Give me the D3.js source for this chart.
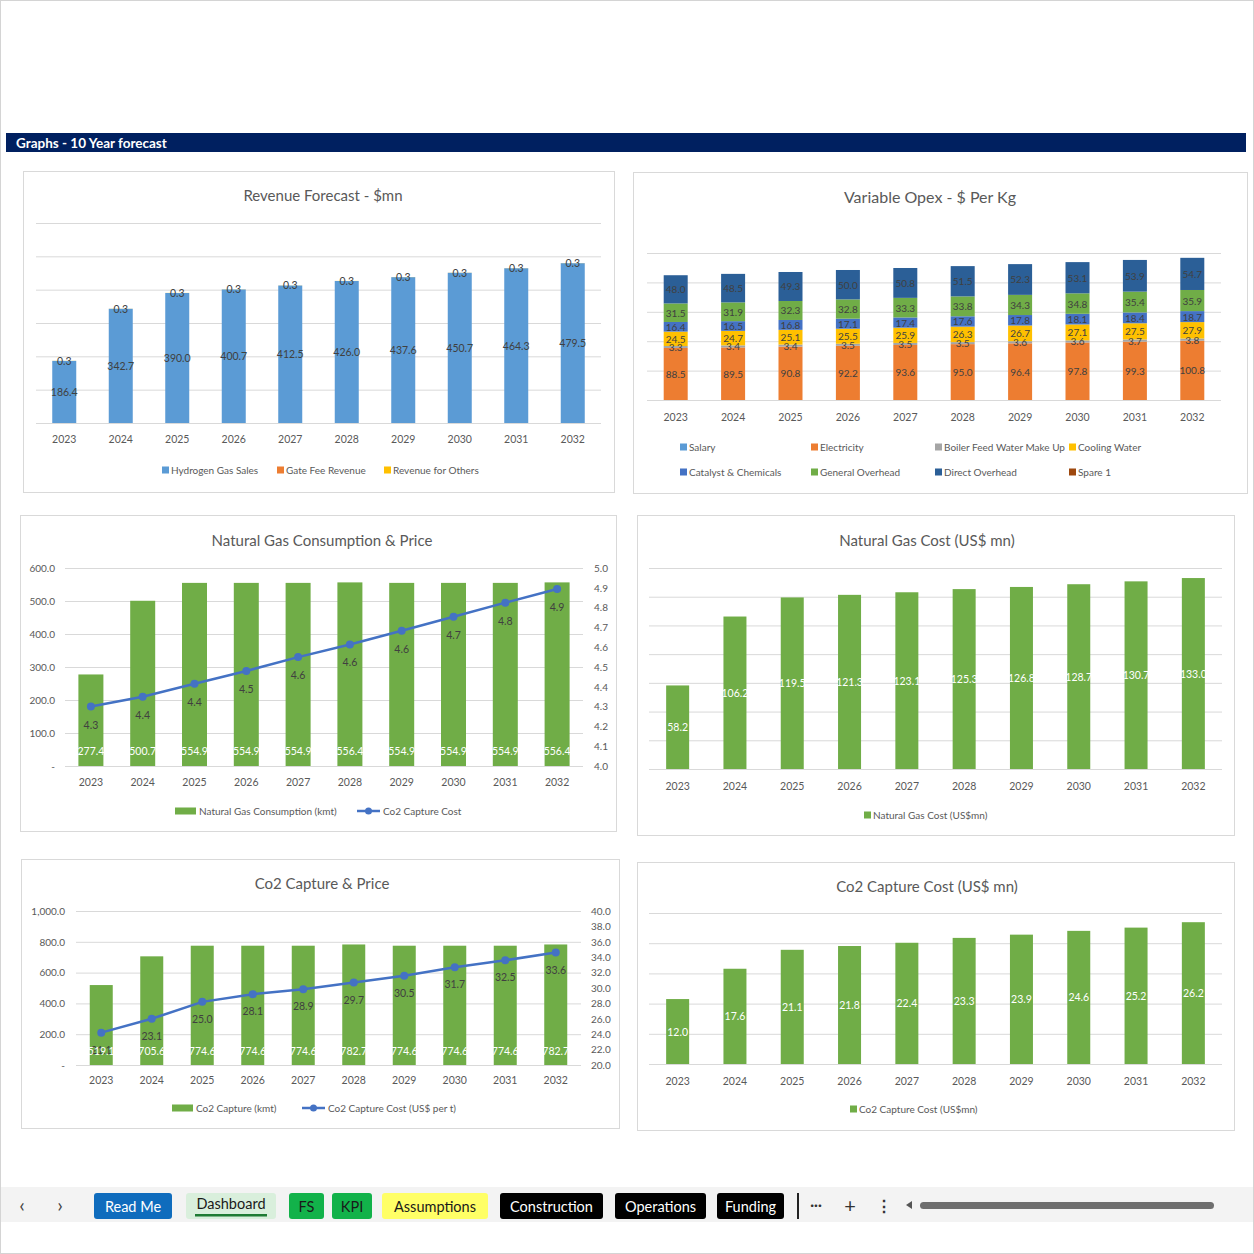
<!DOCTYPE html>
<html>
<head>
<meta charset="utf-8">
<script src="https://cdn.jsdelivr.net/npm/d3@7"></script>
<style>
    body { margin: 0; background: #ffffff; }
    svg { display: block; font-family: Lato, "Open Sans", sans-serif; }
</style>
</head>
<body>
<svg id="dashboard"></svg>
<script>
// ---- data ----
const years = ["2023", "2024", "2025", "2026", "2027", "2028", "2029", "2030", "2031", "2032"];

// Revenue Forecast - $mn
const hydrogenSales = [186.4, 342.7, 390.0, 400.7, 412.5, 426.0, 437.6, 450.7, 464.3, 479.5];
const gateFeeRevenue = [0, 0, 0, 0, 0, 0, 0, 0, 0, 0];
const revenueOthers = [0.3, 0.3, 0.3, 0.3, 0.3, 0.3, 0.3, 0.3, 0.3, 0.3];

// Variable Opex - $ Per Kg
const salary = [0, 0, 0, 0, 0, 0, 0, 0, 0, 0];
const electricity = [88.5, 89.5, 90.8, 92.2, 93.6, 95.0, 96.4, 97.8, 99.3, 100.8];
const boilerFeed = [3.3, 3.4, 3.4, 3.5, 3.5, 3.5, 3.6, 3.6, 3.7, 3.8];
const coolingWater = [24.5, 24.7, 25.1, 25.5, 25.9, 26.3, 26.7, 27.1, 27.5, 27.9];
const catalyst = [16.4, 16.5, 16.8, 17.1, 17.4, 17.6, 17.8, 18.1, 18.4, 18.7];
const generalOverhead = [31.5, 31.9, 32.3, 32.8, 33.3, 33.8, 34.3, 34.8, 35.4, 35.9];
const directOverhead = [48.0, 48.5, 49.3, 50.0, 50.8, 51.5, 52.3, 53.1, 53.9, 54.7];
const spare1 = [0, 0, 0, 0, 0, 0, 0, 0, 0, 0];

// Natural Gas Consumption & Price
const gasConsumption = [277.4, 500.7, 554.9, 554.9, 554.9, 556.4, 554.9, 554.9, 554.9, 556.4];
const gasPrice = [4.30, 4.35, 4.415, 4.48, 4.55, 4.614, 4.683, 4.754, 4.825, 4.894];
const gasPriceLabels = ["4.3", "4.4", "4.4", "4.5", "4.6", "4.6", "4.6", "4.7", "4.8", "4.9"];

// Natural Gas Cost (US$ mn)
const gasCost = [58.2, 106.2, 119.5, 121.3, 123.1, 125.3, 126.8, 128.7, 130.7, 133.0];

// Co2 Capture & Price
const co2Capture = [519.1, 705.6, 774.6, 774.6, 774.6, 782.7, 774.6, 774.6, 774.6, 782.7];
const co2Price = [24.2, 26.0, 28.2, 29.2, 29.85, 30.7, 31.6, 32.7, 33.6, 34.6];
const co2PriceLabels = ["21.1", "23.1", "25.0", "28.1", "28.9", "29.7", "30.5", "31.7", "32.5", "33.6"];

// Co2 Capture Cost (US$ mn)
const co2Cost = [12.0, 17.6, 21.1, 21.8, 22.4, 23.3, 23.9, 24.6, 25.2, 26.2];

// sheet tabs
const tabNames = ["Read Me", "Dashboard", "FS", "KPI", "Assumptions", "Construction", "Operations", "Funding"];
const tabFills = ["#0f6cbd", "#d9efdc", "#12b24a", "#12b24a", "#ffff66", "#000000", "#000000", "#000000"];
const tabText = ["#ffffff", "#1a1a1a", "#1a1a1a", "#1a1a1a", "#1a1a1a", "#ffffff", "#ffffff", "#ffffff"];

const textColor = "#595959";
const gridColor = "#d9d9d9";
const green = "#70ad47";

let svg = d3.select("#dashboard")
    .attr("width", 1254)
    .attr("height", 1254);

svg.append("rect")
    .attr("x", 0.5).attr("y", 0.5)
    .attr("width", 1253).attr("height", 1253)
    .attr("fill", "#ffffff")
    .attr("stroke", "#d4d4d4");

// header strip
svg.append("rect")
    .attr("x", 6).attr("y", 133)
    .attr("width", 1240).attr("height", 19)
    .attr("fill", "#002060");
svg.append("text")
    .attr("x", 16).attr("y", 143)
    .attr("dominant-baseline", "central")
    .attr("font-size", 13.5)
    .attr("font-weight", "bold")
    .attr("fill", "#ffffff")
    .text("Graphs - 10 Year forecast");

// ---- charts ----
drawRevenue();
drawOpex();
drawGasConsumption();
drawSimpleBars(gasCost, {
    box: [637, 515, 597, 320], title: "Natural Gas Cost (US$ mn)", titleX: 927, titleY: 540,
    x0: 649, x1: 1222, yBase: 769, yTop: 568, max: 140, ticks: d3.range(0, 141, 20),
    yearY: 786, legendY: 815, legendX: 864, legend: "Natural Gas Cost (US$mn)"
});
drawCo2Capture();
drawSimpleBars(co2Cost, {
    box: [637, 862, 597, 268], title: "Co2 Capture Cost (US$ mn)", titleX: 927, titleY: 886,
    x0: 649, x1: 1222, yBase: 1064, yTop: 913, max: 27.9, ticks: d3.range(0, 6).map(i => i * 27.9 / 5),
    yearY: 1081, legendY: 1109, legendX: 850, legend: "Co2 Capture Cost (US$mn)"
});
drawTabs();

// frame + title of one chart area
function drawPanel(box, title, titleX, titleY, size = 15) {
    const [x, y, w, h] = box;
    svg.append("rect")
        .attr("x", x + 0.5).attr("y", y + 0.5)
        .attr("width", w).attr("height", h)
        .attr("fill", "#ffffff")
        .attr("stroke", gridColor);
    svg.append("text")
        .attr("x", titleX).attr("y", titleY)
        .attr("text-anchor", "middle")
        .attr("dominant-baseline", "central")
        .attr("font-size", size)
        .attr("fill", textColor)
        .text(title);
}

function createScales(x0, x1, yBase, yTop, domain) {
    const scaleX = d3.scaleBand().domain(years).range([x0, x1]);
    const scaleY = d3.scaleLinear().domain(domain).range([yBase, yTop]);
    return [scaleX, scaleY];
}

// horizontal gridlines drawn with an axis
function drawGrid(scaleY, x0, x1, tickValues) {
    const g = svg.append("g")
        .attr("transform", `translate(${x0}, 0)`)
        .call(d3.axisLeft(scaleY).tickValues(tickValues).tickSize(-(x1 - x0)).tickFormat(""));
    g.select(".domain").remove();
    g.selectAll("line").attr("stroke", gridColor);
}

function drawYears(scaleX, y) {
    const g = svg.append("g")
        .attr("transform", `translate(0, ${y - 3})`)
        .call(d3.axisBottom(scaleX).tickSize(0).tickPadding(0));
    g.select(".domain").remove();
    g.selectAll("text")
        .attr("font-size", 10.5)
        .attr("font-family", "Lato, sans-serif")
        .attr("fill", textColor);
}

function legendBox(x, y, color, label) {
    svg.append("rect")
        .attr("x", x).attr("y", y - 3.5)
        .attr("width", 7).attr("height", 7)
        .attr("fill", color);
    svg.append("text")
        .attr("x", x + 9).attr("y", y)
        .attr("dominant-baseline", "central")
        .attr("font-size", 10)
        .attr("fill", textColor)
        .text(label);
}

function legendWideBox(x, y, color, label) {
    svg.append("rect")
        .attr("x", x).attr("y", y - 3.5)
        .attr("width", 21).attr("height", 7)
        .attr("fill", color);
    svg.append("text")
        .attr("x", x + 24).attr("y", y)
        .attr("dominant-baseline", "central")
        .attr("font-size", 10)
        .attr("fill", textColor)
        .text(label);
}

function legendLine(x, y, color, label) {
    svg.append("line")
        .attr("x1", x).attr("x2", x + 23)
        .attr("y1", y).attr("y2", y)
        .attr("stroke", color).attr("stroke-width", 2.5);
    svg.append("circle")
        .attr("cx", x + 11.5).attr("cy", y).attr("r", 3.5)
        .attr("fill", color);
    svg.append("text")
        .attr("x", x + 26).attr("y", y)
        .attr("dominant-baseline", "central")
        .attr("font-size", 10)
        .attr("fill", textColor)
        .text(label);
}

// stacked columns with centred labels
function drawStack(table, keys, colors, scaleX, scaleY, barW, fontSize) {
    const series = d3.stack().keys(keys)(table);
    const half = scaleX.bandwidth() / 2;

    series.forEach((s, i) => {
        svg.append("g").selectAll("rect")
            .data(s).enter()
            .append("rect")
            .attr("x", d => scaleX(d.data.year) + half - barW / 2)
            .attr("y", d => scaleY(d[1]))
            .attr("width", barW)
            .attr("height", d => scaleY(d[0]) - scaleY(d[1]))
            .attr("fill", colors[i]);
    });
    series.forEach(s => {
        svg.append("g").selectAll("text")
            .data(s.filter(d => d[1] - d[0] > 0)).enter()
            .append("text")
            .attr("x", d => scaleX(d.data.year) + half)
            .attr("y", d => (scaleY(d[0]) + scaleY(d[1])) / 2)
            .attr("text-anchor", "middle")
            .attr("dominant-baseline", "central")
            .attr("font-size", fontSize)
            .attr("fill", "#404040")
            .text(d => (d[1] - d[0]).toFixed(1));
    });
}

function drawRevenue() {
    drawPanel([23, 171, 591, 321], "Revenue Forecast - $mn", 323, 195);
    const [scaleX, scaleY] = createScales(36, 601, 423, 223, [0, 600]);
    drawGrid(scaleY, 36, 601, d3.range(0, 601, 100));

    const table = years.map((year, i) => ({
        year: year, hydrogen: hydrogenSales[i], gate: gateFeeRevenue[i], others: revenueOthers[i]
    }));
    drawStack(table, ["hydrogen", "gate", "others"], ["#5b9bd5", "#ed7d31", "#ffc000"], scaleX, scaleY, 24, 10.5);
    drawYears(scaleX, 439);

    legendBox(162, 470, "#5b9bd5", "Hydrogen Gas Sales");
    legendBox(277, 470, "#ed7d31", "Gate Fee Revenue");
    legendBox(384, 470, "#ffc000", "Revenue for Others");
}

function drawOpex() {
    drawPanel([633, 172, 614, 321], "Variable Opex - $ Per Kg", 930, 196, 16);
    const [scaleX, scaleY] = createScales(647, 1221, 400, 253, [0, 250]);
    drawGrid(scaleY, 647, 1221, d3.range(0, 251, 50));

    const keys = ["salary", "electricity", "boiler", "cooling", "catalyst", "general", "direct", "spare"];
    const names = ["Salary", "Electricity", "Boiler Feed Water Make Up", "Cooling Water",
        "Catalyst & Chemicals", "General Overhead", "Direct Overhead", "Spare 1"];
    const colors = ["#5b9bd5", "#ed7d31", "#a5a5a5", "#ffc000", "#4472c4", "#70ad47", "#2b5f97", "#9e480e"];
    const table = years.map((year, i) => ({
        year: year, salary: salary[i], electricity: electricity[i], boiler: boilerFeed[i],
        cooling: coolingWater[i], catalyst: catalyst[i], general: generalOverhead[i],
        direct: directOverhead[i], spare: spare1[i]
    }));
    drawStack(table, keys, colors, scaleX, scaleY, 24, 10);
    drawYears(scaleX, 417);

    const legendX = [680, 811, 935, 1069];
    names.forEach((name, i) => {
        legendBox(legendX[i % 4], i < 4 ? 447 : 472, colors[i], name);
    });
}

// green columns + blue line on a secondary axis
function drawCombo(barValues, lineValues, lineLabels, cfg) {
    drawPanel(cfg.box, cfg.title, cfg.titleX, cfg.titleY);
    const [scaleX, scaleY] = createScales(cfg.x0, cfg.x1, cfg.yBase, cfg.yTop, cfg.left);
    const scaleY2 = d3.scaleLinear().domain(cfg.right).range([cfg.yBase, cfg.yTop]);
    drawGrid(scaleY, cfg.x0, cfg.x1, cfg.leftTicks);

    // left axis labels
    const axL = svg.append("g")
        .attr("transform", `translate(${cfg.leftX}, 0)`)
        .call(d3.axisLeft(scaleY).tickValues(cfg.leftTicks).tickSize(0).tickPadding(0)
            .tickFormat(d => d === 0 ? "-" : d3.format(",.1f")(d)));
    axL.select(".domain").remove();
    axL.selectAll("text").attr("font-size", 10).attr("font-family", "Lato, sans-serif").attr("fill", textColor);

    // right axis labels
    const axR = svg.append("g")
        .attr("transform", `translate(${cfg.rightX}, 0)`)
        .call(d3.axisRight(scaleY2).tickValues(cfg.rightTicks).tickSize(0).tickPadding(0)
            .tickFormat(d3.format(".1f")));
    axR.select(".domain").remove();
    axR.selectAll("text").attr("font-size", 10).attr("font-family", "Lato, sans-serif").attr("fill", textColor);

    const half = scaleX.bandwidth() / 2;
    svg.append("g").selectAll("rect")
        .data(barValues).enter()
        .append("rect")
        .attr("x", (d, i) => scaleX(years[i]) + half - cfg.barW / 2)
        .attr("y", d => scaleY(d))
        .attr("width", cfg.barW)
        .attr("height", d => cfg.yBase - scaleY(d))
        .attr("fill", green);

    const line = d3.line()
        .x((d, i) => scaleX(years[i]) + half)
        .y(d => scaleY2(d));
    svg.append("path")
        .datum(lineValues)
        .attr("d", line)
        .attr("fill", "none")
        .attr("stroke", "#4472c4")
        .attr("stroke-width", 2.5);
    svg.append("g").selectAll("circle")
        .data(lineValues).enter()
        .append("circle")
        .attr("cx", (d, i) => scaleX(years[i]) + half)
        .attr("cy", d => scaleY2(d))
        .attr("r", 4)
        .attr("fill", "#4472c4");

    svg.append("g").selectAll("text")
        .data(lineValues).enter()
        .append("text")
        .attr("x", (d, i) => scaleX(years[i]) + half)
        .attr("y", d => scaleY2(d) + cfg.lineLabelDy)
        .attr("text-anchor", "middle")
        .attr("dominant-baseline", "central")
        .attr("font-size", 10.5)
        .attr("fill", "#404040")
        .text((d, i) => lineLabels[i]);

    // inside-base labels
    svg.append("g").selectAll("text")
        .data(barValues).enter()
        .append("text")
        .attr("x", (d, i) => scaleX(years[i]) + half)
        .attr("y", cfg.yBase - cfg.baseLabelDy)
        .attr("text-anchor", "middle")
        .attr("dominant-baseline", "central")
        .attr("font-size", 10.5)
        .attr("fill", "#ffffff")
        .text(d => d.toFixed(1));

    drawYears(scaleX, cfg.yearY);
    legendWideBox(cfg.legendBoxX, cfg.legendY, green, cfg.barLegend);
    legendLine(cfg.legendLineX, cfg.legendY, "#4472c4", cfg.lineLegend);
}

function drawGasConsumption() {
    drawCombo(gasConsumption, gasPrice, gasPriceLabels, {
        box: [20, 515, 596, 316], title: "Natural Gas Consumption & Price", titleX: 322, titleY: 540,
        x0: 65, x1: 583, yBase: 766, yTop: 568,
        left: [0, 600], leftTicks: d3.range(0, 601, 100), leftX: 55,
        right: [4.0, 5.0], rightTicks: d3.range(0, 11).map(i => 4 + i / 10), rightX: 594,
        barW: 25, lineLabelDy: 18, baseLabelDy: 15, yearY: 782,
        legendY: 811, legendBoxX: 175, legendLineX: 357,
        barLegend: "Natural Gas Consumption (kmt)", lineLegend: "Co2 Capture Cost"
    });
}

function drawCo2Capture() {
    drawCombo(co2Capture, co2Price, co2PriceLabels, {
        box: [21, 859, 598, 269], title: "Co2 Capture & Price", titleX: 322, titleY: 883,
        x0: 76, x1: 581, yBase: 1065, yTop: 911,
        left: [0, 1000], leftTicks: d3.range(0, 1001, 200), leftX: 65,
        right: [20, 40], rightTicks: d3.range(20, 41, 2), rightX: 591,
        barW: 23, lineLabelDy: 17, baseLabelDy: 14, yearY: 1080,
        legendY: 1108, legendBoxX: 172, legendLineX: 302,
        barLegend: "Co2 Capture (kmt)", lineLegend: "Co2 Capture Cost (US$ per t)"
    });
}

// single green series with labels in the middle of the bars
function drawSimpleBars(values, cfg) {
    drawPanel(cfg.box, cfg.title, cfg.titleX, cfg.titleY);
    const [scaleX, scaleY] = createScales(cfg.x0, cfg.x1, cfg.yBase, cfg.yTop, [0, cfg.max]);
    drawGrid(scaleY, cfg.x0, cfg.x1, cfg.ticks);
    const half = scaleX.bandwidth() / 2;

    svg.append("g").selectAll("rect")
        .data(values).enter()
        .append("rect")
        .attr("x", (d, i) => scaleX(years[i]) + half - 11.5)
        .attr("y", d => scaleY(d))
        .attr("width", 23)
        .attr("height", d => cfg.yBase - scaleY(d))
        .attr("fill", green);

    svg.append("g").selectAll("text")
        .data(values).enter()
        .append("text")
        .attr("x", (d, i) => scaleX(years[i]) + half)
        .attr("y", d => (scaleY(d) + cfg.yBase) / 2)
        .attr("text-anchor", "middle")
        .attr("dominant-baseline", "central")
        .attr("font-size", 10.5)
        .attr("fill", "#ffffff")
        .text(d => d.toFixed(1));

    drawYears(scaleX, cfg.yearY);
    legendBox(cfg.legendX, cfg.legendY, green, cfg.legend);
}

// excel sheet tab strip at the bottom
function drawTabs() {
    svg.append("rect")
        .attr("x", 1).attr("y", 1187)
        .attr("width", 1252).attr("height", 35)
        .attr("fill", "#f3f3f3");

    const tabX = [94, 186, 289, 332, 382, 500, 615, 717];
    const tabW = [78, 90, 35, 40, 106, 103, 91, 67];

    const arrows = [["\u2039", 22], ["\u203A", 60]];
    arrows.forEach(([t, x]) => {
        svg.append("text").attr("x", x).attr("y", 1204)
            .attr("text-anchor", "middle").attr("dominant-baseline", "central")
            .attr("font-size", 20).attr("fill", "#444").text(t);
    });

    tabNames.forEach((name, i) => {
        svg.append("rect")
            .attr("x", tabX[i]).attr("y", 1193)
            .attr("width", tabW[i]).attr("height", 26)
            .attr("rx", 3)
            .attr("fill", tabFills[i]);
        svg.append("text")
            .attr("x", tabX[i] + tabW[i] / 2).attr("y", i === 1 ? 1203 : 1206)
            .attr("text-anchor", "middle")
            .attr("dominant-baseline", "central")
            .attr("font-size", 14.5)
            .attr("fill", tabText[i])
            .text(name);
    });
    // active tab underline
    svg.append("rect")
        .attr("x", 195).attr("y", 1214)
        .attr("width", 72).attr("height", 2.5)
        .attr("fill", "#1e7b34");

    svg.append("rect").attr("x", 797).attr("y", 1193).attr("width", 2).attr("height", 26).attr("fill", "#222");
    svg.append("text").attr("x", 816).attr("y", 1204).attr("text-anchor", "middle")
        .attr("dominant-baseline", "central").attr("font-size", 14).attr("font-weight", "bold")
        .attr("fill", "#333").text("\u00B7\u00B7\u00B7");
    svg.append("text").attr("x", 850).attr("y", 1205).attr("text-anchor", "middle")
        .attr("dominant-baseline", "central").attr("font-size", 20).attr("fill", "#333").text("+");
    svg.append("text").attr("x", 884).attr("y", 1205).attr("text-anchor", "middle")
        .attr("dominant-baseline", "central").attr("font-size", 16).attr("font-weight", "bold")
        .attr("fill", "#333").text("\u22EE");
    svg.append("path").attr("d", "M906,1205 L912,1201 L912,1209 Z").attr("fill", "#555");
    svg.append("rect").attr("x", 920).attr("y", 1202).attr("width", 294).attr("height", 7)
        .attr("rx", 3.5).attr("fill", "#6e6e6e");
}
</script>
</body>
</html>
